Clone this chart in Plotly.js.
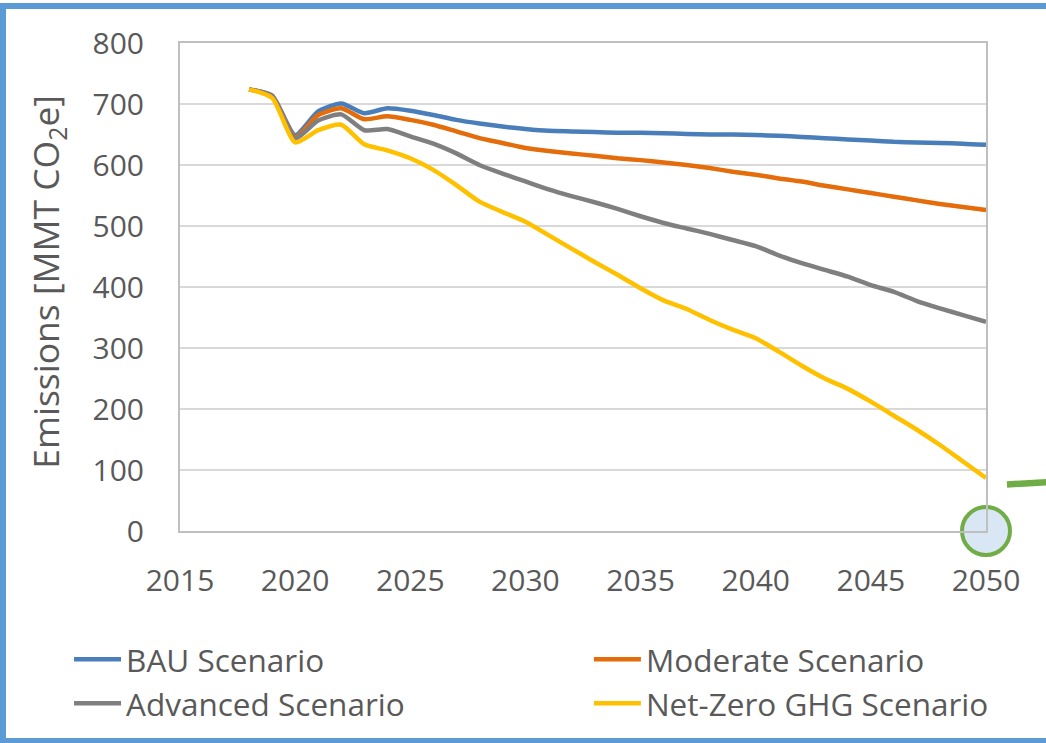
<!DOCTYPE html>
<html>
<head>
<meta charset="utf-8">
<script src="https://cdn.plot.ly/plotly-3.0.1.min.js"></script>
<style>
  html, body { margin: 0; padding: 0; background: #ffffff; }
  #chart { width: 1046px; height: 743px; }
</style>
</head>
<body>
<div id="chart"></div>
<script>
// Annual emissions pathways, MMT CO2e
const years = [2018, 2019, 2020, 2021, 2022, 2023, 2024, 2025, 2026, 2027, 2028,
  2029, 2030, 2031, 2032, 2033, 2034, 2035, 2036, 2037, 2038, 2039, 2040,
  2041, 2042, 2043, 2044, 2045, 2046, 2047, 2048, 2049, 2050];

const bau = [724, 714, 649, 688, 701, 685, 693, 689, 682, 674, 668,
  663, 659, 656, 655, 654, 653, 653, 652, 651, 650, 650, 649,
  648, 646, 644, 642, 640, 638, 637, 636, 635, 633];

const moderate = [724, 713, 646, 682, 693, 675, 680, 674, 666, 655, 644,
  636, 628, 623, 619, 615, 611, 608, 604, 600, 595, 589, 584,
  578, 573, 566, 560, 554, 548, 542, 536, 531, 526];

const advanced = [724, 713, 644, 673, 683, 657, 659, 647, 635, 619, 600,
  586, 573, 560, 549, 539, 528, 516, 505, 496, 487, 477, 467,
  452, 439, 428, 417, 403, 392, 377, 365, 354, 343];

const netZero = [724, 710, 637, 657, 666, 634, 624, 611, 592, 567, 540,
  523, 507, 485, 463, 441, 420, 398, 378, 364, 346, 330, 316,
  294, 271, 250, 233, 212, 189, 166, 141, 114, 87];

const seriesNames = ['BAU Scenario', 'Moderate Scenario', 'Advanced Scenario', 'Net-Zero GHG Scenario'];
const seriesValues = [bau, moderate, advanced, netZero];
const seriesColors = ['#4a7ebb', '#e46c0a', '#7f7f7f', '#ffc000'];
// left legend column holds BAU / Advanced, right column Moderate / Net-Zero
const seriesLegend = ['legend', 'legend2', 'legend', 'legend2'];

const yTicks = [0, 100, 200, 300, 400, 500, 600, 700, 800];
const xTicks = [2015, 2020, 2025, 2030, 2035, 2040, 2045, 2050];
const yTitle = 'Emissions [MMT CO<sub>2</sub>e]';

// highlighted end point of the net-zero pathway
const markYear = [2050];
const markValue = [0];

const FONT = 'Open Sans, sans-serif';
const TEXT = '#595959';

const traces = seriesNames.map((name, i) => ({
  type: 'scatter',
  mode: 'lines',
  name: name,
  legend: seriesLegend[i],
  x: years,
  y: seriesValues[i],
  line: { color: seriesColors[i], width: 4.5, shape: 'spline', smoothing: 0.6 },
  hoverinfo: 'x+y+name'
}));

traces.push({
  type: 'scatter',
  mode: 'markers',
  x: markYear,
  y: markValue,
  showlegend: false,
  cliponaxis: false,
  hoverinfo: 'skip',
  marker: {
    size: 48,
    color: 'rgba(160,195,230,0.4)',
    line: { color: '#70ad47', width: 4 }
  }
});

const legendBase = {
  orientation: 'v',
  xref: 'container',
  yref: 'container',
  xanchor: 'left',
  y: 0.149,
  yanchor: 'top',
  itemwidth: 47,
  tracegroupgap: 0,
  traceorder: 'normal',
  font: { family: FONT, size: 31.5, color: TEXT },
  bgcolor: 'rgba(0,0,0,0)'
};

const layout = {
  width: 1046,
  height: 743,
  paper_bgcolor: '#ffffff',
  plot_bgcolor: '#ffffff',
  margin: { l: 180, r: 60, t: 43, b: 212, autoexpand: false },
  font: { family: FONT, size: 30, color: TEXT },
  showlegend: true,
  legend: Object.assign({}, legendBase, { x: 0.066 }),
  legend2: Object.assign({}, legendBase, { x: 0.563 }),
  xaxis: {
    range: [2015, 2050],
    tickvals: xTicks,
    ticktext: xTicks.map(String),
    showgrid: false,
    zeroline: false,
    showline: true,
    mirror: true,
    linecolor: '#bfbfbf',
    linewidth: 2,
    ticks: '',
    ticklabelstandoff: 22,
    tickfont: { family: FONT, size: 30, color: TEXT }
  },
  yaxis: {
    range: [0, 800],
    tickvals: yTicks,
    ticktext: yTicks.map(String),
    showgrid: true,
    gridcolor: '#d9d9d9',
    gridwidth: 2,
    zeroline: false,
    showline: true,
    mirror: true,
    linecolor: '#bfbfbf',
    linewidth: 2,
    ticks: '',
    ticklabelstandoff: 28,
    tickfont: { family: FONT, size: 30, color: TEXT }
  },
  annotations: [
    // vertical axis title
    {
      text: yTitle,
      xref: 'paper', yref: 'paper',
      x: -0.165, y: 0.511,
      xanchor: 'center', yanchor: 'middle',
      textangle: -90,
      showarrow: false,
      font: { family: FONT, size: 35.5, color: TEXT }
    }
  ],
  shapes: [
    // outer frame
    {
      type: 'rect', xref: 'paper', yref: 'paper',
      x0: -0.2196, x1: 1.10, y0: -0.4303, y1: 1.0758,
      line: { color: '#5b9bd5', width: 6 },
      fillcolor: 'rgba(0,0,0,0)'
    },
    // pointer stub
    {
      type: 'line', xref: 'paper', yref: 'paper',
      x0: 1.026, x1: 1.09, y0: 0.0953, y1: 0.1016,
      line: { color: '#70ad47', width: 6.5 }
    }
  ]
};

Plotly.newPlot('chart', traces, layout, { displayModeBar: false, staticPlot: true });
</script>
</body>
</html>
